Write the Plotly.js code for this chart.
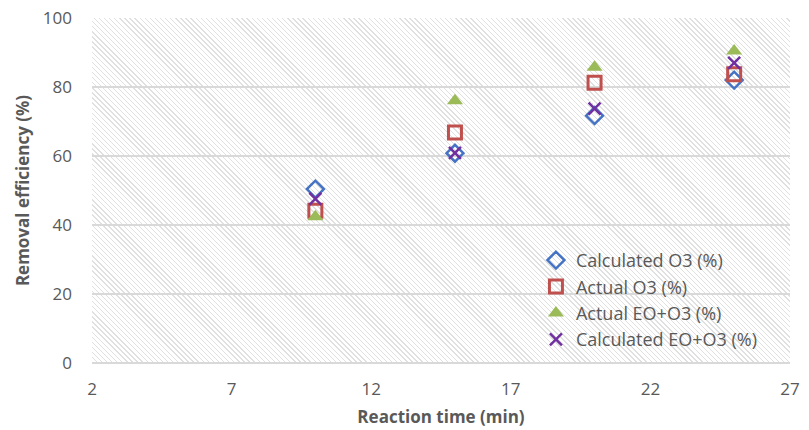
<!DOCTYPE html>
<html><head><meta charset="utf-8">
<script src="https://cdn.plot.ly/plotly-3.0.1.min.js"></script>
<style>
html,body{margin:0;padding:0;background:#fff}
#wrap{position:relative;width:809px;height:430px}
#hatch{position:absolute;left:92px;top:18px;width:698px;height:345px;
  background:repeating-linear-gradient(45deg,#e0e0e0 0px,#e0e0e0 1px,#ffffff 1px,#ffffff 3.6px);}
#chart{position:absolute;left:0;top:0;width:809px;height:430px}
</style>
</head><body><div id="wrap"><div id="hatch"></div><div id="chart"></div></div>
<script>
const reactionTime = [10, 15, 20, 25];
const calculatedO3 = [50.4, 60.8, 71.7, 82.0];
const actualO3 = [44.1, 66.8, 81.2, 83.7];
const actualEOO3 = [42.4, 76.0, 85.7, 90.4];
const calculatedEOO3 = [47.6, 60.9, 73.7, 87.0];
const xRange = [2, 27];
const yRange = [0, 100];
const xTicks = [2, 7, 12, 17, 22, 27];
const yTicks = [0, 20, 40, 60, 80, 100];

const grey = '#595959';
const traces = [
  {x:reactionTime, y:calculatedO3, name:'Calculated O3 (%)', type:'scatter', mode:'markers',
   marker:{symbol:'diamond-open', size:13, color:'#4472C4', line:{width:2.5, color:'#4472C4'}}},
  {x:reactionTime, y:actualO3, name:'Actual O3 (%)', type:'scatter', mode:'markers',
   marker:{symbol:'square-open', size:13, color:'#C0504D', line:{width:3, color:'#C0504D'}}},
  {x:reactionTime, y:actualEOO3, name:'Actual EO+O3 (%)', type:'scatter', mode:'markers',
   marker:{symbol:'triangle-up', size:14, color:'#9BBB59', line:{width:0}}},
  {x:reactionTime, y:calculatedEOO3, name:'Calculated EO+O3 (%)', type:'scatter', mode:'markers',
   marker:{symbol:'x-thin', size:12, color:'#7030A0', line:{width:2.5, color:'#7030A0'}}}
];
const layout = {
  width:809, height:430,
  margin:{l:92, r:19, t:18, b:67},
  paper_bgcolor:'rgba(0,0,0,0)', plot_bgcolor:'rgba(0,0,0,0)',
  font:{family:'Open Sans, sans-serif', color:grey, size:17},
  showlegend:true,
  legend:{x:0.636, y:0.351, xanchor:'left', yanchor:'top', bgcolor:'rgba(0,0,0,0)',
          font:{size:18, color:grey}, traceorder:'normal', itemwidth:30},
  xaxis:{range:xRange, tickvals:xTicks, showgrid:false, zeroline:false,
         showline:false, ticks:'', tickfont:{size:17, color:grey}, ticklabelstandoff:14,
         title:{text:'<b>Reaction time (min)</b>', font:{size:17, color:grey}, standoff:12}},
  yaxis:{range:yRange, tickvals:yTicks, showgrid:true, gridcolor:'#d9d9d9', gridwidth:1.5,
         zeroline:true, zerolinecolor:'#d9d9d9', zerolinewidth:1.5, showline:false, ticks:'',
         tickfont:{size:17, color:grey}, ticklabelstandoff:19,
         title:{text:'<b>Removal efficiency (%)</b>', font:{size:17, color:grey}, standoff:8}}
};
Plotly.newPlot('chart', traces, layout, {displayModeBar:false, staticPlot:true});
</script></body></html>
